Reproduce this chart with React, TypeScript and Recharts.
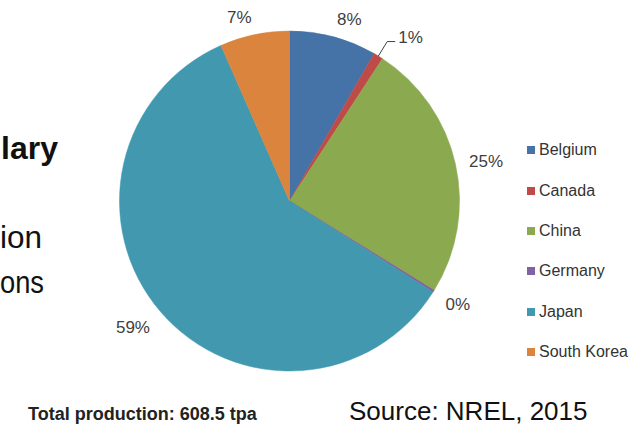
import React from 'react';
import { PieChart, Pie, Cell, Legend } from 'recharts';

// Annual production by country, tonnes per annum (tpa)
const countries = ['Belgium', 'Canada', 'China', 'Germany', 'Japan', 'South Korea'];
const production = [50.5, 5.5, 149.7, 1.2, 361.4, 40.2];
const sliceColors = ['#4572A7', '#BE4B48', '#8BA94F', '#7E62A1', '#4198AF', '#DB843D'];

const data = countries.map((name, i) => ({ name, value: production[i] }));
const total = production.reduce((a, b) => a + b, 0);

const FONT = '"Liberation Sans", Arial, Helvetica, sans-serif';
const LABEL_COLOR = '#404040';
const RADIAN = Math.PI / 180;
// Slices whose percentage label is pulled out with a leader line
const LEADER_LABELS = new Set(['Canada']);

const W = 633;
const H = 426;

function renderLabel(props: any) {
  const { cx, cy, midAngle, outerRadius, percent, name } = props;
  const ux = Math.cos(-midAngle * RADIAN);
  const uy = Math.sin(-midAngle * RADIAN);
  const text = `${Math.round(percent * 100)}%`;
  const fontSize = 17;
  const side = ux >= 0 ? 1 : -1;

  if (LEADER_LABELS.has(name)) {
    const x0 = cx + outerRadius * ux;
    const y0 = cy + outerRadius * uy;
    const x1 = cx + (outerRadius + 17) * ux;
    const y1 = cy + (outerRadius + 17) * uy;
    const x2 = x1 + 8 * side;
    return (
      <g>
        <polyline
          points={`${x0},${y0} ${x1},${y1} ${x2},${y1}`}
          fill="none"
          stroke={LABEL_COLOR}
          strokeWidth={1}
        />
        <text
          x={x2 + 3 * side}
          y={y1 - 4}
          textAnchor={side > 0 ? 'start' : 'end'}
          dominantBaseline="central"
          fontFamily={FONT}
          fontSize={fontSize}
          fill={LABEL_COLOR}
        >
          {text}
        </text>
      </g>
    );
  }

  const digits = text.length - 1;
  const w = (digits * 0.556 + 0.889) * fontSize;
  const h = 13;
  const R = outerRadius + 14;
  const px = cx + R * ux;
  const py = cy + R * uy;
  const tx = px + side * (w / 2);
  const ty = py + uy * (h / 2) + 2.5;
  return (
    <text
      x={tx}
      y={ty}
      textAnchor="middle"
      dominantBaseline="central"
      fontFamily={FONT}
      fontSize={fontSize}
      fill={LABEL_COLOR}
    >
      {text}
    </text>
  );
}

function renderLegend(props: any) {
  const payload = props.payload || [];
  return (
    <div style={{ fontFamily: FONT, fontSize: 16, color: '#333' }}>
      {payload.map((entry: any) => {
        const idx = countries.indexOf(entry.value);
        return (
          <div
            key={entry.value}
            style={{ height: 40.4, display: 'flex', alignItems: 'center', whiteSpace: 'nowrap' }}
          >
            <span
              style={{
                display: 'inline-block',
                width: 8,
                height: 8,
                background: sliceColors[idx],
                marginRight: 4,
              }}
            />
            <span>{entry.value}</span>
          </div>
        );
      })}
    </div>
  );
}

export default function App() {
  return (
    <div
      style={{
        position: 'absolute',
        left: 0,
        top: 0,
        width: W,
        height: H,
        background: '#fff',
        overflow: 'hidden',
      }}
    >
      <PieChart width={W} height={H} margin={{ top: 0, right: 0, bottom: 0, left: 0 }}>
        <Pie
          data={data}
          dataKey="value"
          nameKey="name"
          cx={289.5}
          cy={201}
          outerRadius={170}
          startAngle={90}
          endAngle={-270}
          label={renderLabel}
          labelLine={false}
          isAnimationActive={false}
        >
          {data.map((d, i) => (
            <Cell key={d.name} fill={sliceColors[i]} stroke={sliceColors[i]} strokeWidth={0.5} />
          ))}
        </Pie>
        <Legend
          layout="vertical"
          align="right"
          verticalAlign="top"
          content={renderLegend}
          wrapperStyle={{ left: 527, top: 130, width: 106 }}
        />
      </PieChart>
      <svg
        width={W}
        height={H}
        style={{ position: 'absolute', left: 0, top: 0, pointerEvents: 'none' }}
      >
        <g fontFamily={FONT} fill="#111">
          <text x={58} y={159} textAnchor="end" fontSize={32} fontWeight="bold">
            lary
          </text>
          <text x={0} y={248} fontSize={32} textLength={42} lengthAdjust="spacingAndGlyphs">
            ion
          </text>
          <text x={0} y={293} fontSize={32} textLength={44} lengthAdjust="spacingAndGlyphs">
            ons
          </text>
          <text x={28} y={420} fontSize={18} fontWeight="bold" fill="#222">
            {`Total production: ${total.toFixed(1)} tpa`}
          </text>
          <text x={349} y={420} fontSize={26}>
            Source: NREL, 2015
          </text>
        </g>
      </svg>
    </div>
  );
}
